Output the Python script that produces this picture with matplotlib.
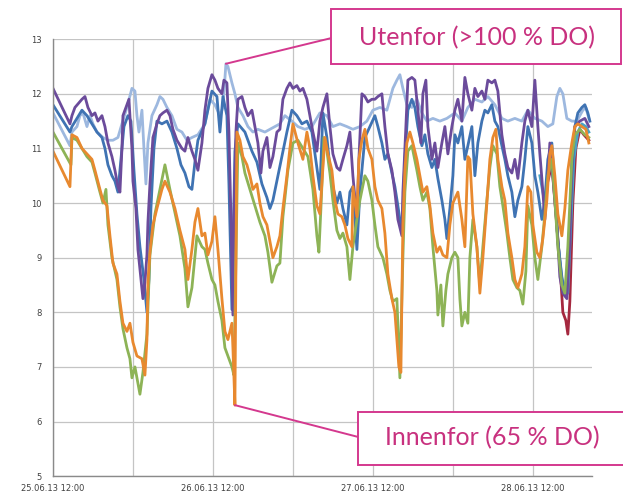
import matplotlib
matplotlib.use("Agg")
import matplotlib.pyplot as plt
import matplotlib.dates as mdates
from matplotlib.patches import Rectangle
import numpy as np
import pandas as pd

# Dissolved oxygen logger series, time in hours after 25.06.13 12:00
START = pd.Timestamp("2013-06-25 12:00")

orange_t = [0.0, 2.55, 2.85, 3.6, 4.35, 5.1, 5.85, 6.3, 7.05, 7.5, 8.1, 8.55, 9.0, 9.6, 10.05, 10.5,
            11.1, 11.55, 12.0, 12.6, 13.35, 13.8, 14.1, 14.25, 14.55, 15.0, 15.6, 16.35, 16.8, 17.55,
            18.3, 19.05, 19.8, 20.25, 20.85, 21.3, 21.75, 22.35, 22.8, 23.25, 23.85, 24.3, 24.75,
            25.35, 25.8, 26.25, 26.85, 27.0, 27.3, 27.6, 28.05, 28.5, 29.1, 29.55, 30.0, 30.6, 31.05,
            31.5, 32.1, 32.55, 33.0, 33.6, 34.05, 34.5, 35.1, 35.55, 36.0, 36.75, 37.5, 38.1, 38.55,
            39.0, 39.6, 40.05, 40.8, 41.25, 41.85, 42.3, 42.75, 43.35, 43.8, 44.25, 44.85, 45.0, 45.6,
            45.9, 46.35, 46.8, 47.25, 47.85, 48.3, 48.75, 49.35, 49.8, 50.25, 50.85, 51.3, 51.6, 51.9,
            52.2, 52.5, 52.8, 53.1, 53.55, 54.0, 54.6, 55.05, 55.5, 56.1, 56.55, 57.0, 57.6, 58.05,
            58.5, 59.1, 59.55, 60.0, 60.75, 61.35, 61.8, 62.25, 62.55, 63.0, 63.6, 64.05, 64.5, 65.1,
            65.55, 66.0, 66.45, 66.75, 67.35, 67.8, 68.25, 68.85, 69.3, 69.75, 70.35, 70.8, 71.25,
            71.7, 72.0, 72.6, 73.05, 73.5, 74.1, 74.55, 74.85, 75.3, 75.75, 76.35, 76.8, 77.25, 77.85,
            78.3, 78.75, 79.35, 79.95, 80.4]
orange_v = [10.95, 10.3, 11.25, 11.2, 11.0, 10.9, 10.8, 10.6, 10.25, 10.05, 9.95, 9.4, 8.9, 8.7, 8.2, 7.8,
            7.65, 7.8, 7.45, 7.2, 7.15, 6.85, 7.5, 8.55, 9.1, 9.6, 9.9, 10.25, 10.4, 10.2,
            9.9, 9.5, 9.15, 8.6, 9.15, 9.65, 9.9, 9.4, 9.45, 9.05, 9.3, 9.75, 9.15,
            8.25, 7.65, 7.5, 7.8, 7.35, 6.3, 11.3, 11.15, 10.85, 10.7, 10.5, 10.25, 10.35, 10.0,
            9.75, 9.6, 9.3, 9.0, 9.2, 9.4, 9.9, 10.5, 11.0, 11.45, 11.1, 10.8, 11.3, 11.0,
            10.5, 9.95, 9.8, 11.2, 10.9, 10.6, 10.05, 9.8, 9.75, 9.6, 9.35, 9.2, 10.3, 9.75,
            10.8, 11.15, 11.35, 11.0, 10.8, 10.3, 10.05, 9.9, 9.45, 8.7, 8.25, 8.0, 7.5, 7.0,
            6.9, 9.6, 10.6, 11.1, 11.3, 11.1, 10.8, 10.5, 10.2, 10.3, 9.95, 9.45, 9.1, 9.2,
            9.05, 9.0, 9.6, 10.0, 10.2, 9.7, 9.2, 10.85, 10.8, 9.8, 9.2, 8.35, 9.0, 10.0,
            10.8, 11.2, 11.35, 10.8, 10.3, 10.05, 9.45, 9.0, 8.6, 8.45, 8.7, 9.2, 10.3,
            10.2, 9.6, 9.1, 9.0, 9.35, 10.05, 10.9, 11.05, 10.5, 9.8, 9.4, 9.9, 10.6, 11.1,
            11.4, 11.45, 11.4, 11.35, 11.1]

green_t = [0.0, 2.7, 2.85, 3.6, 4.35, 5.1, 5.85, 6.3, 7.05, 7.5, 7.95, 8.25, 8.85, 9.6, 10.05, 10.5,
           11.1, 11.55, 11.85, 12.3, 12.75, 13.05, 13.5, 14.1, 14.55, 15.3, 16.05, 16.8, 17.55,
           19.05, 19.8, 20.25, 20.85, 21.6, 22.35, 22.8, 23.25, 23.85, 24.3, 24.75, 25.35, 25.8,
           26.25, 26.85, 27.15, 27.75, 28.35, 28.8, 29.55, 30.3, 31.05, 31.8, 32.25, 32.85, 33.6,
           34.05, 34.5, 35.25, 36.0, 36.75, 37.5, 38.25, 39.0, 39.6, 39.9, 40.2, 40.65, 41.1, 41.55,
           42.0, 42.6, 43.05, 43.5, 44.1, 44.55, 45.0, 45.6, 46.05, 46.8, 47.25, 47.85, 48.3, 48.75,
           49.5, 50.1, 50.55, 51.0, 51.6, 51.75, 52.05, 52.5, 52.8, 53.25, 53.85, 54.6, 55.05, 55.5,
           56.1, 56.55, 57.0, 57.6, 57.75, 58.2, 58.5, 58.95, 59.25, 59.85, 60.3, 60.75, 61.05,
           61.35, 61.8, 62.25, 62.55, 63.0, 63.6, 64.05, 64.5, 65.1, 65.55, 66.0, 66.6, 67.05, 67.5,
           68.1, 68.55, 69.0, 69.6, 70.05, 70.5, 70.95, 71.25, 71.85, 72.3, 72.75, 73.35, 73.8,
           74.25, 74.85, 75.3, 75.75, 76.35, 76.8, 77.25, 77.85, 78.3, 79.05, 79.8, 80.4]
green_v = [11.3, 10.7, 11.2, 11.15, 11.0, 10.85, 10.75, 10.55, 10.2, 10.0, 10.25, 9.6, 9.0, 8.6, 8.1, 7.7,
           7.35, 7.15, 6.8, 7.0, 6.7, 6.5, 6.9, 7.6, 9.05, 9.8, 10.25, 10.7, 10.25,
           9.4, 8.8, 8.1, 8.45, 9.4, 9.2, 9.15, 8.9, 8.6, 8.5, 8.2, 7.85, 7.35,
           7.2, 7.0, 6.85, 11.1, 10.85, 10.55, 10.25, 9.95, 9.65, 9.4, 9.1, 8.55, 8.85,
           8.9, 9.75, 10.6, 11.1, 11.15, 11.0, 10.85, 10.25, 9.4, 9.1, 9.9, 11.2, 10.95, 10.55,
           10.05, 9.5, 9.35, 9.45, 9.2, 8.6, 9.2, 9.7, 10.05, 10.5, 10.4, 10.05, 9.6, 9.2,
           9.0, 8.7, 8.4, 8.2, 8.25, 7.75, 6.8, 9.0, 10.2, 10.95, 11.05, 10.6, 10.3, 10.05,
           10.2, 9.9, 9.2, 8.4, 7.95, 8.5, 7.75, 8.4, 8.7, 9.0, 9.1, 9.0, 8.25,
           7.75, 8.0, 7.8, 9.0, 9.7, 9.2, 8.5, 9.2, 10.05, 10.65, 11.05, 10.9, 10.3, 9.95,
           9.45, 9.0, 8.6, 8.45, 8.4, 8.15, 8.75, 9.95, 9.6, 9.0, 8.6, 9.2, 9.8,
           10.5, 10.8, 10.05, 9.2, 8.5, 8.35, 9.2, 10.8, 11.25, 11.35, 11.25, 11.2]

purple_t = [0.0, 2.55, 2.85, 3.3, 4.35, 4.8, 5.25, 5.85, 6.3, 6.75, 7.35, 7.8, 8.25, 8.85, 9.3, 9.75,
            10.05, 10.35, 10.5, 11.1, 11.4, 11.85, 12.0, 12.45, 12.75, 13.2, 13.5, 13.8, 14.1, 14.25,
            14.55, 15.0, 15.6, 16.05, 16.5, 17.1, 17.55, 18.0, 18.6, 19.35, 19.8, 20.25, 20.85, 21.3,
            21.75, 22.35, 22.8, 23.25, 23.85, 24.3, 24.75, 25.35, 25.65, 26.1, 26.4, 26.7, 27.0,
            27.15, 27.45, 27.75, 28.35, 28.8, 29.25, 29.85, 30.3, 30.75, 31.2, 31.5, 32.1, 32.55,
            33.0, 33.6, 34.05, 34.5, 35.1, 35.55, 36.0, 36.6, 37.05, 37.5, 38.1, 38.55, 39.0, 39.6,
            40.05, 40.5, 41.1, 41.55, 42.0, 42.6, 43.05, 43.5, 44.1, 44.55, 45.0, 45.6, 45.9, 46.35,
            46.8, 47.25, 47.85, 48.3, 48.75, 49.35, 49.8, 50.25, 50.85, 51.3, 51.75, 52.35, 52.5,
            52.95, 53.25, 53.85, 54.3, 54.75, 55.2, 55.5, 55.95, 56.25, 56.85, 57.3, 57.75, 58.35,
            58.8, 59.25, 59.85, 60.3, 60.75, 61.35, 61.8, 62.25, 62.85, 63.3, 63.75, 64.35, 64.8,
            65.25, 65.85, 66.3, 66.75, 67.35, 67.8, 68.25, 68.85, 69.3, 69.75, 70.35, 70.8, 71.25,
            71.85, 72.3, 72.75, 73.05, 73.35, 73.8, 74.25, 74.55, 75.0, 75.6, 76.05, 76.5, 77.1,
            77.55, 77.85, 78.3, 79.05, 79.8, 80.4]
purple_v = [12.1, 11.45, 11.6, 11.75, 11.9, 11.95, 11.75, 11.6, 11.65, 11.5, 11.6, 11.4, 11.1, 10.85, 10.6, 10.3,
            10.2, 11.0, 11.6, 11.8, 11.9, 11.0, 10.4, 9.9, 9.15, 8.6, 8.25, 8.55, 9.05, 9.65,
            10.35, 11.2, 11.45, 11.6, 11.65, 11.7, 11.6, 11.35, 11.15, 11.0, 10.95, 11.2, 10.95, 10.8,
            10.6, 11.1, 11.7, 12.1, 12.35, 12.25, 12.1, 12.0, 12.25, 12.2, 11.3, 9.75, 7.95,
            9.75, 11.3, 11.9, 11.95, 11.75, 11.6, 11.7, 11.4, 11.1, 10.55, 10.95, 11.2, 10.65,
            10.85, 11.3, 11.35, 11.9, 12.1, 12.2, 12.1, 12.15, 12.05, 12.1, 11.9, 11.6, 11.3, 10.95,
            11.5, 11.75, 12.0, 11.4, 10.9, 10.65, 10.6, 10.8, 11.05, 11.3, 10.5, 9.7, 10.8, 12.0,
            11.95, 11.85, 11.9, 11.9, 11.95, 12.0, 11.4, 10.9, 10.6, 10.2, 9.7, 9.4, 10.2,
            11.4, 12.25, 12.3, 12.25, 11.7, 11.1, 12.0, 12.25, 11.4, 10.8, 11.1, 10.65, 11.1,
            11.4, 10.9, 11.4, 11.7, 11.9, 11.5, 12.3, 12.0, 11.7, 12.1, 11.95, 12.05, 11.9,
            12.25, 12.2, 12.25, 12.05, 11.25, 10.9, 10.65, 10.55, 10.8, 10.45, 11.1, 11.5, 11.7,
            11.4, 12.25, 11.4, 10.9, 10.45, 9.7, 10.5, 11.1, 10.5, 9.6, 8.65, 8.35, 8.25,
            9.3, 10.8, 11.4, 11.5, 11.55, 11.4]

blue_t = [0.0, 2.55, 2.85, 3.6, 4.35, 5.1, 5.85, 6.6, 7.35, 7.8, 8.25, 8.85, 9.3, 9.75, 10.2, 10.65,
          11.25, 11.7, 12.15, 12.6, 13.05, 13.65, 14.1, 14.4, 14.7, 15.15, 15.6, 16.35, 17.1, 17.85,
          18.6, 19.2, 19.8, 20.4, 20.85, 21.3, 21.75, 22.8, 23.85, 24.6, 25.05, 25.5, 26.1, 26.4,
          26.85, 27.3, 27.75, 28.8, 29.85, 30.6, 31.35, 32.1, 32.55, 33.0, 33.75, 34.5, 35.1, 35.85,
          36.6, 37.35, 38.1, 38.85, 39.6, 40.05, 40.5, 41.1, 41.55, 42.0, 42.6, 43.05, 43.5, 44.1,
          44.55, 45.0, 45.6, 46.05, 46.8, 47.55, 48.3, 48.75, 49.35, 49.8, 50.25, 50.85, 51.3,
          51.75, 52.35, 52.8, 53.25, 53.85, 54.3, 54.75, 55.35, 55.8, 56.25, 56.85, 57.3, 57.75,
          58.35, 58.8, 59.1, 59.55, 60.0, 60.3, 60.75, 61.35, 61.8, 62.25, 62.85, 63.3, 63.75,
          64.35, 64.8, 65.25, 65.85, 66.3, 66.75, 67.35, 67.8, 68.25, 68.85, 69.3, 69.75, 70.35,
          70.8, 71.25, 71.85, 72.3, 72.75, 73.35, 73.8, 74.25, 74.85, 75.3, 75.75, 76.35, 76.8,
          77.25, 77.85, 78.3, 78.75, 79.35, 79.8, 80.25, 80.55]
blue_v = [11.8, 11.3, 11.4, 11.55, 11.7, 11.6, 11.45, 11.3, 11.2, 11.0, 10.7, 10.5, 10.4, 10.2, 10.8, 11.4,
          11.6, 11.5, 10.6, 9.8, 9.2, 8.6, 8.0, 8.6, 9.9, 11.0, 11.5, 11.45, 11.5, 11.3,
          11.0, 10.7, 10.55, 10.3, 10.25, 10.75, 11.15, 11.45, 12.05, 11.95, 11.3, 11.95, 11.6, 10.35,
          8.05, 10.95, 11.45, 11.3, 10.95, 10.75, 10.35, 10.1, 9.9, 10.05, 10.5, 10.95, 11.3, 11.7,
          11.6, 11.45, 11.5, 11.3, 10.65, 10.25, 11.65, 11.2, 10.65, 10.3, 10.0, 10.2, 9.9, 9.6,
          10.2, 10.3, 9.15, 10.2, 11.2, 11.4, 11.6, 11.4, 11.1, 10.8, 10.9, 10.55, 10.3,
          9.95, 9.45, 10.8, 11.7, 11.9, 11.75, 11.4, 11.05, 11.25, 10.9, 10.65, 10.8, 10.45,
          10.05, 9.7, 9.35, 9.9, 10.5, 11.25, 11.1, 11.4, 10.8, 11.05, 11.4, 10.5, 11.1,
          11.5, 11.7, 11.65, 11.8, 11.5, 11.4, 11.05, 10.8, 10.5, 10.2, 9.75, 10.05, 10.3,
          10.8, 11.4, 11.1, 10.5, 10.2, 9.7, 10.05, 10.8, 11.1, 10.2, 9.3, 8.65, 8.35,
          8.85, 10.5, 11.4, 11.65, 11.75, 11.8, 11.65, 11.5]

lightblue_t = [0.0, 2.55, 2.85, 3.6, 4.05, 4.5, 5.1, 5.55, 6.0, 6.6, 7.5, 8.25, 9.0, 9.75, 10.35, 11.1,
               11.85, 12.3, 12.6, 12.9, 13.35, 13.65, 13.95, 14.25, 14.85, 15.6, 16.05, 16.5, 17.1,
               17.85, 18.6, 19.35, 20.1, 20.85, 21.75, 22.8, 23.55, 24.3, 25.05, 25.5, 25.95, 26.25,
               26.85, 27.3, 27.75, 28.5, 29.25, 30.0, 30.75, 31.8, 32.55, 33.3, 34.05, 34.8, 35.85,
               36.75, 37.8, 38.85, 40.05, 41.1, 42.0, 43.05, 44.1, 45.0, 46.05, 47.1, 48.0, 49.05,
               50.1, 51.0, 51.6, 52.05, 52.5, 53.1, 53.85, 54.6, 55.35, 56.1, 57.0, 58.05, 59.1, 60.3,
               61.35, 62.25, 63.3, 64.35, 65.25, 66.3, 67.35, 68.25, 69.3, 70.35, 71.25, 72.3, 73.35,
               74.25, 75.0, 75.6, 76.05, 76.5, 77.1, 77.85, 78.6, 79.5, 79.95, 80.4]
lightblue_v = [11.65, 11.05, 11.3, 11.4, 11.6, 11.65, 11.4, 11.6, 11.45, 11.3, 11.2, 11.15, 11.15, 11.2, 11.45, 11.75,
               12.1, 12.05, 11.6, 11.3, 11.7, 11.0, 10.35, 11.1, 11.6, 11.8, 11.95, 11.9, 11.75,
               11.6, 11.35, 11.3, 11.15, 11.2, 11.25, 11.45, 11.9, 11.8, 11.6, 11.75, 12.55, 12.5,
               12.2, 12.0, 11.75, 11.6, 11.4, 11.3, 11.35, 11.3, 11.35, 11.4, 11.45, 11.6, 11.5,
               11.4, 11.35, 11.4, 11.65, 11.6, 11.4, 11.45, 11.4, 11.35, 11.4, 11.5, 11.7, 11.75,
               11.7, 12.1, 12.25, 12.35, 12.1, 11.8, 11.75, 11.9, 11.65, 11.5, 11.55, 11.5, 11.55, 11.65,
               11.5, 11.75, 11.9, 11.85, 11.95, 11.8, 11.55, 11.5, 11.55, 11.5, 11.7, 11.55, 11.5,
               11.4, 11.45, 11.95, 12.1, 12.0, 11.55, 11.5, 11.5, 11.7, 11.75, 11.55]

aqua_t = [73.05, 73.8, 74.55, 75.3, 75.75, 76.35, 76.8, 77.25, 77.7, 78.15, 78.75, 79.35, 79.95, 80.4]
aqua_v = [10.5, 10.0, 10.8, 10.3, 9.3, 8.6, 8.3, 8.35, 9.6, 10.8, 11.3, 11.45, 11.4, 11.3]

red_t = [74.25, 74.85, 75.45, 76.05, 76.5, 76.95, 77.25, 77.55, 78.0, 78.45, 79.05, 79.65, 80.4]
red_v = [10.4, 10.7, 9.8, 8.9, 8.0, 7.85, 7.6, 8.2, 10.0, 11.0, 11.35, 11.25, 11.15]

y_ticks = [5, 6, 7, 8, 9, 10, 11, 12, 13]
label_out = "Utenfor (>100 % DO)"
label_in = "Innenfor (65 % DO)"


def to_time(hours):
    return START + pd.to_timedelta(np.asarray(hours), unit="h")


fig = plt.figure(figsize=(6.23, 4.96), dpi=100)
ax = fig.add_axes([0.085, 0.040, 0.865, 0.881])

series = [
    (red_t, red_v, "#a5283f"),
    (aqua_t, aqua_v, "#4aa2c4"),
    (lightblue_t, lightblue_v, "#9db8df"),
    (blue_t, blue_v, "#3f73b3"),
    (purple_t, purple_v, "#6b4b9b"),
    (green_t, green_v, "#8db356"),
    (orange_t, orange_v, "#e8892f"),
]
for t, v, c in series:
    ax.plot(to_time(t), v, color=c, lw=2.0, solid_joinstyle="round")

# axes styling: light grid, grey left/bottom spines
ax.set_ylim(5, 13)
ax.set_yticks(y_ticks)
ax.set_xlim(START, START + pd.Timedelta(hours=80.85))
ax.xaxis.set_major_locator(mdates.HourLocator(byhour=[12]))
ax.xaxis.set_minor_locator(mdates.HourLocator(byhour=[0]))
ax.xaxis.set_major_formatter(mdates.DateFormatter("%d.%m.%y %H:%M"))
ax.grid(True, which="both", color="#c4c4c4", lw=0.9)
ax.set_axisbelow(True)
for side in ["top", "right"]:
    ax.spines[side].set_visible(False)
for side in ["left", "bottom"]:
    ax.spines[side].set_color("#8a8a8a")
    ax.spines[side].set_linewidth(1.0)
ax.tick_params(axis="both", which="both", length=0, labelsize=6, labelcolor="#404040")
ax.tick_params(axis="y", pad=8)
ax.tick_params(axis="x", pad=6)

# callouts
pink = "#d4388e"
txt_col = "#c8317f"

i_max = int(np.argmax(lightblue_v))
ax.annotate("", xy=(to_time([lightblue_t[i_max]])[0], lightblue_v[i_max]), xycoords="data",
            xytext=(0.531, 0.923), textcoords="figure fraction",
            arrowprops=dict(arrowstyle="-", color=pink, lw=1.4, shrinkA=0, shrinkB=0))
fig.patches.append(Rectangle((0.531, 0.871), 0.465, 0.111, transform=fig.transFigure,
                             facecolor="white", edgecolor=pink, lw=1.4, zorder=5))
fig.text(0.765, 0.925, label_out, ha="center", va="center", fontsize=18,
         family="Lato", color=txt_col, zorder=6)

i_min = int(np.argmin(orange_v))
ax.annotate("", xy=(to_time([orange_t[i_min]])[0], orange_v[i_min]), xycoords="data",
            xytext=(0.575, 0.119), textcoords="figure fraction",
            arrowprops=dict(arrowstyle="-", color=pink, lw=1.4, shrinkA=0, shrinkB=0))
fig.patches.append(Rectangle((0.575, 0.062), 0.45, 0.107, transform=fig.transFigure,
                             facecolor="white", edgecolor=pink, lw=1.4, zorder=5))
fig.text(0.79, 0.117, label_in, ha="center", va="center", fontsize=18,
         family="Lato", color=txt_col, zorder=6)

fig.savefig("out.png", dpi=100)
